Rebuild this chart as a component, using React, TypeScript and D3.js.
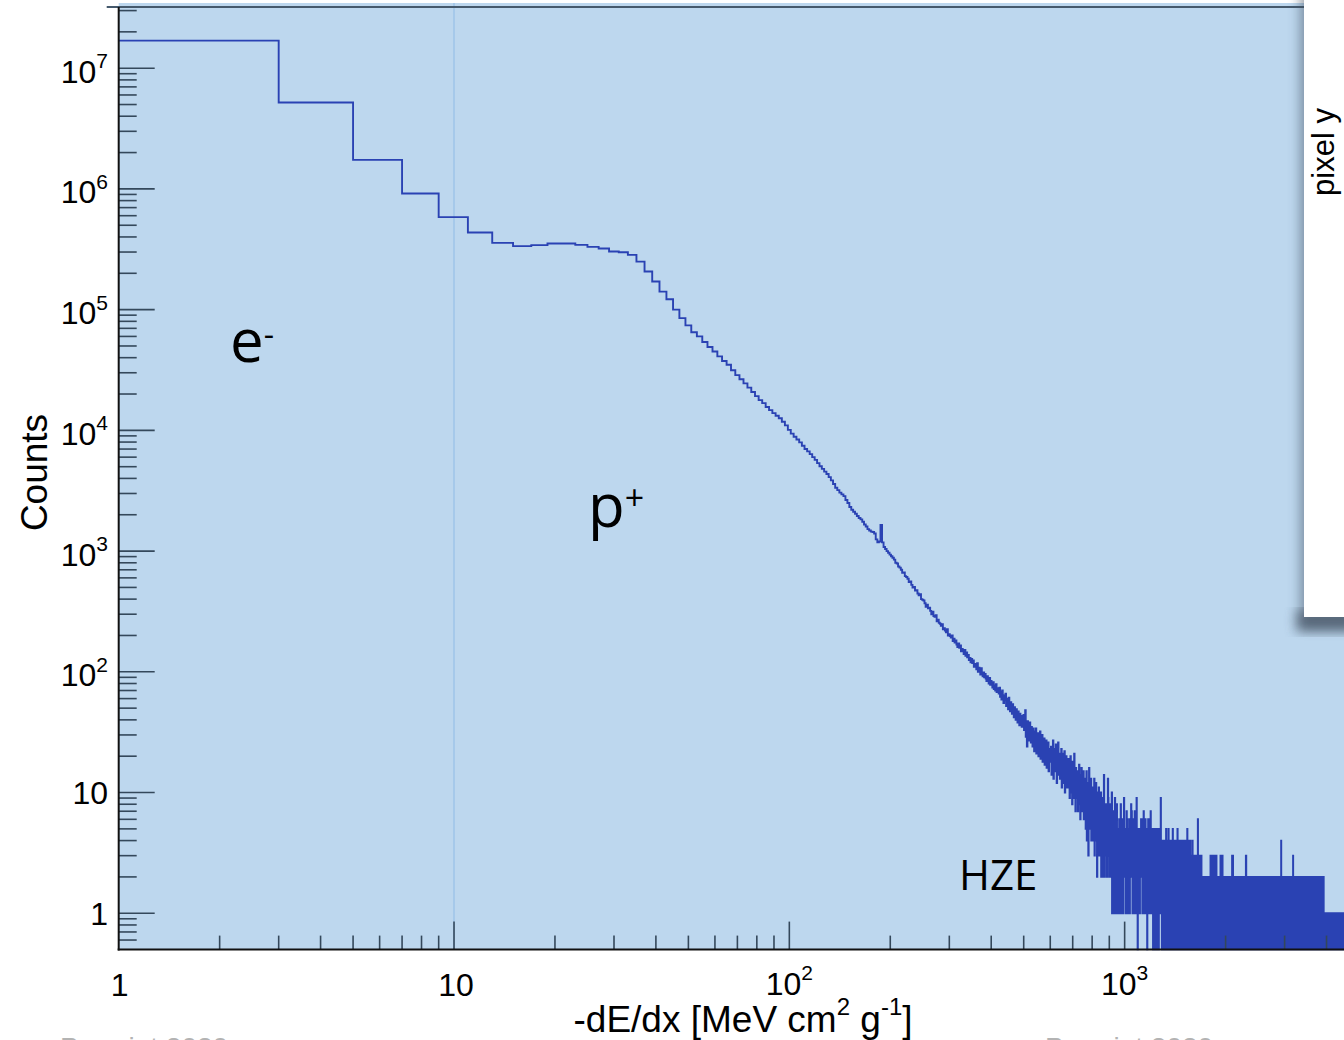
import React from 'react';
import * as d3 from 'd3';

// ---------------- DATA ----------------
// Histogram with uniform bins of width 2 starting at 1 (-dE/dx in MeV cm^2 g^-1)
const BIN_START = 1;
const BIN_WIDTH = 2;

// bins 1-3 ... 43-45 (electron region + proton plateau)
const countsElectron = [
  1.69e7, 5.2e6, 1.74e6, 9.16e5, 5.84e5, 4.35e5, 3.57e5, 3.36e5, 3.42e5, 3.53e5, 3.53e5,
  3.44e5, 3.31e5, 3.21e5, 3.03e5, 2.99e5, 2.84e5, 2.5e5, 2.07e5, 1.71e5, 1.41e5, 1.22e5,
];

// bins 45-47 ... 197-199
const countsProtonFall = [
  1.0e5, 8.5e4, 7.4e4, 6.5e4, 6.0e4, 5.4e4, 4.9e4, 4.5e4, 4.1e4, 3.75e4, 3.5e4, 3.15e4, 2.87e4, 2.65e4,
  2.45e4, 2.26e4, 2.08e4, 1.92e4, 1.78e4, 1.68e4, 1.56e4, 1.47e4, 1.39e4, 1.32e4, 1.26e4, 1.18e4, 1.10e4,
  1.01e4, 9400, 8850, 8400, 7950, 7450, 7000, 6700, 6350, 6000, 5700, 5350, 5050, 4800, 4550, 4350, 4100,
  3850, 3600, 3350, 3200, 3050, 2950, 2850, 2650, 2500, 2320, 2200, 2120, 2040, 1950, 1880, 1830, 1750,
  1660, 1600, 1520, 1480, 1450, 1440, 1400, 1250, 1180, 1200, 1650, 1180, 1080, 1040, 1000, 970,
];

// bins 199-201 ... 299-301
const countsProtonTail = [
  935, 905, 880, 850, 800, 790, 745, 730, 700, 660, 665, 620, 610, 590, 555, 560, 525, 500, 505, 470,
  475, 445, 430, 440, 400, 395, 390, 370, 345, 360, 335, 340, 320, 300, 315, 290, 285, 295, 262, 270,
  255, 250, 240, 248, 225, 230, 220, 212, 225, 200, 205,
];

// bins 301-303 ... 599-601
const countsMid = [
  198, 192, 200, 180, 188, 175, 182, 168, 160, 172, 158, 165, 148, 155, 150, 140, 152, 136, 145, 132,
  138, 125, 130, 120, 128, 118, 124, 110, 116, 112, 105, 118, 100, 108, 102, 95, 107, 98, 92, 99,
  90, 96, 88, 84, 92, 85, 80, 89, 78, 84, 80, 74, 82, 72, 77, 70, 79, 68, 73, 70,
  66, 74, 62, 68, 59, 70, 64, 55, 63, 58, 66, 52, 60, 55, 49, 61, 53, 47, 56, 50,
  45, 54, 48, 42, 51, 46, 40, 49, 44, 38, 47, 41, 36, 45, 39, 43, 35, 41, 37, 44,
  33, 41, 48, 29, 37, 24, 39, 31, 36, 27, 38, 30, 26, 35, 29, 24, 34, 27, 22, 32,
  26, 34, 21, 30, 24, 31, 20, 29, 23, 32, 19, 27, 22, 30, 18, 26, 21, 28, 17, 25,
  20, 27, 16, 24, 19, 26, 15, 23, 18, 22,
];

// bins 601-603 ... 999-1001
const countsHigh = [
  18, 24, 14, 21, 19, 27, 13, 20, 16, 23, 15, 25, 19, 12, 22, 17, 26, 14, 18, 21,
  13, 20, 16, 23, 11, 18, 14, 21, 12, 19, 22, 10, 16, 13, 20, 11, 18, 15, 12, 19,
  11, 17, 9, 14, 20, 10, 13, 16, 8, 18, 11, 15, 9, 21, 10, 14, 7, 16, 12, 10,
  9, 15, 7, 12, 10, 17, 8, 14, 6, 12, 9, 16, 7, 13, 8, 11, 15, 6, 10, 9,
  7, 13, 5, 10, 15, 4, 9, 7, 12, 3, 9, 16, 6, 11, 5, 8, 13, 4, 10, 6,
  6, 11, 4, 9, 5, 13, 3, 10, 7, 4, 12, 5, 8, 2, 7, 10, 5, 3, 11, 6,
  4, 9, 3, 7, 10, 2, 6, 4, 9, 2, 6, 8, 3, 14, 5, 2, 8, 6, 3, 5,
  3, 8, 2, 6, 5, 13, 9, 3, 5, 2, 7, 2, 8, 4, 6, 2, 4, 10, 1, 5,
  4, 2, 7, 1, 5, 4, 1, 9, 3, 4, 6, 1, 3, 8, 4, 1, 5, 3, 2, 5,
  2, 6, 1, 4, 1, 3, 8, 2, 5, 3, 1, 6, 3, 1, 4, 1, 3, 9, 2, 3,
];

// bins from 1001 upward: one digit per bin (single-event counts, HZE tail)
const countsTailDigits = [
  '35241372631452326143528372415362431725346193240532',
  '35241524362453163527415243621435405236412453162743',
  '24135240313524130425143250314230514235139241304231',
  '13240314023142503214032415302141302413023214053201',
  '20314230410314213052130241302104120314231032140312',
  '02314204130210312051301402134102314021303102104123',
  '10203120130130210312203102601021301202130132103120',
  '10210120102101201021012010210120120102101201021012',
  '03102102012103102012012013021021012021301020120102',
  '20102102012012030210120102103102101201021012010210',
  '01201021012010210120102101201021012010210120130210',
  '13021012010210120102101201021020102012101201021012',
  '01021012012010210120102101201020120102101201021013',
  '03102102011021012010210120102101201021012010210120',
  '10120102010210120102120102101020120102101020120102',
  '01201021012010201210102101201021012010210120102012',
  '10210102012010120102101201021001201021012010210120',
  '10120102010210120102120102101020120102101020120102',
  '01201021010101001010110120101102101201010120101001',
  '01201021012010401210102101201021012010210120102012',
  '10210102012010120102101201021001201021012010210120',
  '10120102010210120102120102101020120102131020120102',
  '01201021012010201210102101201021012010210120102012',
  '10210102012010120102101001021001201021010010210120',
  '10120102010210120102120102101020120102101020120102',
  '01201021012010201210102101201021012010210120102012',
  '10210102012010120102101201021001201021012010210120',
  '10120102010210100102120102101020100102101020120102',
  '01201021012010201210102101001021012010210120102012',
  '10210102012010101010101001011001101011011010110100',
  '10101101010101101001101101011001010110101101010110',
  '01101010110101101010110101101010101101010101101011',
  '10101101010101101001101101011001010110101101010110',
  '01101010110101101010110101101010101101010101101011',
  '10101101010101101001101101011001010110101101010110',
  '01101010110101101010110101101010101101010101101011',
];

const xDecades = [0, 1, 2, 3];
const yDecades = [0, 1, 2, 3, 4, 5, 6, 7];
const minorMultipliers = [1, 2, 3, 4, 5, 6, 7, 8, 9];

// ---------------- LAYOUT ----------------
const W = 1344;
const H = 1040;
const PLOT = { left: 118.7, right: 1344, top: 3, bottom: 949.6 };
const X_DOMAIN: [number, number] = [1, 4510];
const Y_DOMAIN: [number, number] = [0.5, 3.467e7];

const AXIS_FONT = "'Liberation Sans', Arial, Helvetica, sans-serif";
const LABEL_FONT = "'Open Sans', 'Noto Sans', sans-serif";
const LINE_COLOR = '#2a42b3';
const TICK_COLOR = '#34485b';

export default function App() {
  const x = d3.scaleLog().domain(X_DOMAIN).range([PLOT.left, PLOT.right]);
  const y = d3.scaleLog().domain(Y_DOMAIN).range([PLOT.bottom, PLOT.top]).clamp(true);

  const tailCounts = countsTailDigits.join('').split('').map(Number);
  const allCounts = [
    ...countsElectron,
    ...countsProtonFall,
    ...countsProtonTail,
    ...countsMid,
    ...countsHigh,
    ...tailCounts,
  ];

  const pts: [number, number][] = [];
  allCounts.forEach((c, i) => {
    const lo = BIN_START + i * BIN_WIDTH;
    const hi = lo + BIN_WIDTH;
    if (lo > X_DOMAIN[1]) return;
    pts.push([lo, c]);
    pts.push([Math.min(hi, X_DOMAIN[1] * 1.01), c]);
  });
  const line = d3
    .line<[number, number]>()
    .x((d) => x(d[0]))
    .y((d) => y(Math.max(d[1], Y_DOMAIN[0])));
  const pathD = line(pts) || '';

  // ticks
  const yTicks: { v: number; major: boolean }[] = [];
  [-1, ...yDecades].forEach((e) =>
    minorMultipliers.forEach((m) => {
      const v = m * Math.pow(10, e);
      if (v > Y_DOMAIN[0] * 1.01 && v < Y_DOMAIN[1]) yTicks.push({ v, major: m === 1 });
    })
  );
  const xTicks: { v: number; major: boolean }[] = [];
  xDecades.forEach((e) =>
    minorMultipliers.forEach((m) => {
      const v = m * Math.pow(10, e);
      if (v > X_DOMAIN[0] && v < X_DOMAIN[1]) xTicks.push({ v, major: m === 1 });
    })
  );

  return (
    <svg
      width={W}
      height={H}
      style={{ position: 'absolute', left: 0, top: 0, background: '#ffffff' }}
    >
      <defs>
        <clipPath id="plotClip">
          <rect x={PLOT.left} y={PLOT.top} width={PLOT.right - PLOT.left} height={PLOT.bottom - PLOT.top + 1} />
        </clipPath>
        <filter id="panelShadow" x="-50%" y="-10%" width="200%" height="130%">
          <feGaussianBlur stdDeviation="6" />
        </filter>
      </defs>

      {/* plot background */}
      <rect x={PLOT.left} y={PLOT.top} width={PLOT.right - PLOT.left} height={PLOT.bottom - PLOT.top} fill="#bdd7ee" />

      {/* faint vertical marker at 10 */}
      <line x1={x(10)} x2={x(10)} y1={PLOT.top} y2={PLOT.bottom} stroke="#8fbbe6" strokeWidth={1} />

      {/* histogram */}
      <g clipPath="url(#plotClip)">
        <path d={pathD} fill="none" stroke={LINE_COLOR} strokeWidth={1.9} strokeLinejoin="miter" />
      </g>

      {/* y ticks */}
      {yTicks.map((t, i) => (
        <line
          key={'yt' + i}
          x1={PLOT.left}
          x2={PLOT.left + (t.major ? 36 : 18)}
          y1={y(t.v)}
          y2={y(t.v)}
          stroke={TICK_COLOR}
          strokeWidth={1.6}
        />
      ))}
      {/* x ticks */}
      {xTicks.map((t, i) => (
        <line
          key={'xt' + i}
          x1={x(t.v)}
          x2={x(t.v)}
          y1={PLOT.bottom}
          y2={PLOT.bottom - (t.major ? 28 : 14)}
          stroke={TICK_COLOR}
          strokeWidth={1.6}
        />
      ))}

      {/* frame */}
      <line x1={PLOT.left - 12} x2={PLOT.right} y1={7} y2={7} stroke="#45596c" strokeWidth={2} />
      <line x1={PLOT.left} x2={PLOT.left} y1={7} y2={PLOT.bottom + 1} stroke="#111" strokeWidth={2} />
      <line x1={PLOT.left - 1} x2={PLOT.right} y1={PLOT.bottom} y2={PLOT.bottom} stroke="#111" strokeWidth={2} />

      {/* tick labels and titles */}
      <g fontFamily={AXIS_FONT} fill="#000">
        {yDecades.map((e) => {
          const ty = y(Math.pow(10, e));
          if (e === 0)
            return (
              <text key={'yl' + e} x={108} y={ty + 11.5} textAnchor="end" fontSize={32}>1</text>
            );
          if (e === 1)
            return (
              <text key={'yl' + e} x={108} y={ty + 11.5} textAnchor="end" fontSize={32}>10</text>
            );
          return (
            <text key={'yl' + e} x={108} y={ty + 14.5} textAnchor="end" fontSize={32}>
              10<tspan dy={-14.5} fontSize={21}>{e}</tspan>
            </text>
          );
        })}
        {xDecades.map((e) => {
          const tx = x(Math.pow(10, e));
          if (e === 0)
            return (
              <text key={'xl' + e} x={tx + 1} y={996} textAnchor="middle" fontSize={32}>1</text>
            );
          if (e === 1)
            return (
              <text key={'xl' + e} x={tx + 2} y={996} textAnchor="middle" fontSize={32}>10</text>
            );
          return (
            <text key={'xl' + e} x={tx} y={995} textAnchor="middle" fontSize={32}>
              10<tspan dy={-15} fontSize={21}>{e}</tspan>
            </text>
          );
        })}

        <text x={743} y={1032} textAnchor="middle" fontSize={37}>
          -dE/dx [MeV cm<tspan dy={-17} fontSize={24}>2</tspan>
          <tspan dy={17}> g</tspan>
          <tspan dy={-17} fontSize={24}>-1</tspan>
          <tspan dy={17}>]</tspan>
        </text>
        <text transform="translate(46.5,472.5) rotate(-90)" textAnchor="middle" fontSize={37}>
          Counts
        </text>
      </g>

      {/* region labels */}
      <g fontFamily={LABEL_FONT} fill="#000">
        <text x={230} y={362} fontSize={60}>
          e<tspan dy={-16} fontSize={32}>-</tspan>
        </text>
        <text x={588} y={527} fontSize={60}>
          p<tspan dy={-17} fontSize={34}>+</tspan>
        </text>
        <text x={959} y={890} fontSize={42}>HZE</text>
      </g>

      {/* overlapping side panel with soft drop shadow */}
      <rect x={1300} y={-20} width={60} height={648} fill="#3c4c5c" opacity={0.5} filter="url(#panelShadow)" />
      <rect x={1296} y={610} width={60} height={22} fill="#3c4c5c" opacity={0.6} filter="url(#panelShadow)" />
      <rect x={1304} y={0} width={40} height={617} fill="#ffffff" />
      <text
        transform="translate(1334,152) rotate(-90)"
        textAnchor="middle"
        fontSize={31}
        fontFamily={AXIS_FONT}
        fill="#000"
      >
        pixel y
      </text>

      {/* cut-off captions at the bottom edge */}
      <g fontFamily={AXIS_FONT} fill="#b3b3b3" fontSize={28}>
        <text x={60} y={1057}>Preprint 2020</text>
        <text x={1045} y={1057}>Preprint 2020</text>
      </g>
    </svg>
  );
}
